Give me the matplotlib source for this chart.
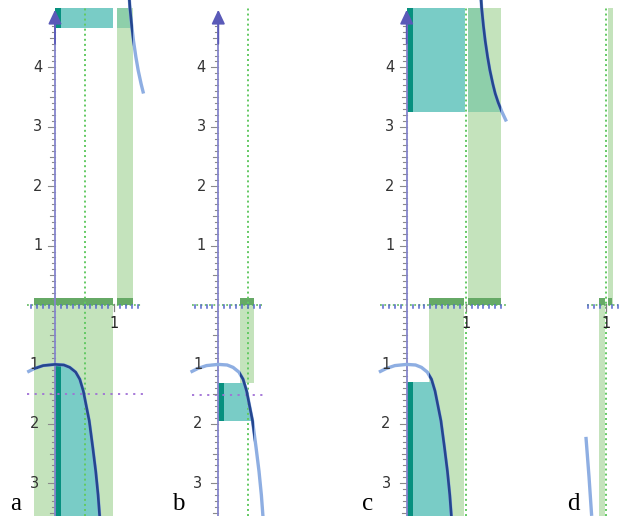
import numpy as np
import matplotlib.pyplot as plt
from matplotlib.patches import Rectangle, PathPatch
from matplotlib.path import Path

# figure size in px and drawing scale
W, H, DPI = 619, 516, 100
SX, SY = 59.0, 59.4          # px per unit (x, y)
Y0 = 305                     # px row of the x axis
TOP = 5.0                    # top of the drawing
BOT = -(H - Y0) / SY         # bottom of the drawing

# lower curve, depth below the axis (panels a, b, c)
low_x = np.array([-0.47, -0.35, -0.2, 0.0, 0.15, 0.25, 0.35, 0.42, 0.48, 0.53, 0.58, 0.64, 0.69, 0.73, 0.76])
low_d = np.array([1.13, 1.07, 1.02, 1.0, 1.01, 1.05, 1.13, 1.25, 1.45, 1.7, 1.95, 2.4, 2.8, 3.2, 3.6])
# upper curve (panels a, c)
up_x = np.array([1.25, 1.27, 1.30, 1.33, 1.37, 1.41, 1.46, 1.50, 1.55, 1.61, 1.69])
up_y = np.array([5.3, 5.0, 4.7, 4.45, 4.18, 3.95, 3.72, 3.56, 3.41, 3.26, 3.09])
# panel d, piece of the lower curve
d_x = np.array([0.665, 0.717, 0.762])
d_d = np.array([2.22, 2.89, 3.55])

# panel a
a_axis = [-0.47, 1.47]
a_vline = 0.5
a_hline = 1.5
a_band_lo = [-0.35, 0.98]
a_band_hi = [1.05, 1.32]
a_teal_up = 4.67
a_curve_end = 1.5
# panel b
b_axis = [-0.45, 0.74]
b_vline = 0.5
b_hline = 1.52
b_band_lo = [0.374, 0.6]
b_teal = [1.32, 1.95]
# panel c
c_axis = [-0.45, 1.69]
c_vline = 1.0
c_band_lo = [0.37, 0.97]
c_band_hi = [1.0, 1.6]
c_bar_hi = [1.02, 1.6]
c_teal_up = 3.25
c_teal_lo = 1.3
# panel d
d_axis = [0.68, 1.21]
d_vline = 1.0
d_band_lo = [0.89, 0.985]
d_band_hi = [0.985, 1.12]
d_bar_lo = [0.89, 0.99]
d_bar_hi = [1.01, 1.10]

LGREEN = '#c4e3bc'
DGREEN = '#66a966'
TEAL = '#79ccc6'
DTEAL = '#07907f'
OVER = '#8ecfaa'
CLIGHT = '#8eaee2'
CDARK = '#24468f'
AXCOL = '#8585cc'

fig = plt.figure(figsize=(W / DPI, H / DPI), dpi=DPI)


def panel(px0, px1, ox):
    ax = fig.add_axes([px0 / W, 0, (px1 - px0) / W, 1])
    ax.set_xlim((px0 - ox) / SX, (px1 - ox) / SX)
    ax.set_ylim(BOT, Y0 / SY)
    ax.axis('off')
    return ax


def rect(ax, x0, x1, y0, y1, color, z, clip=None):
    r = Rectangle((x0, y0), x1 - x0, y1 - y0, color=color, lw=0, zorder=z)
    ax.add_patch(r)
    if clip is not None:
        r.set_clip_path(clip)
    return r


def under_low(ax):
    verts = list(zip(low_x, -low_d)) + [(low_x[-1], BOT - 1), (low_x[0], BOT - 1)]
    return PathPatch(Path(verts + [verts[0]], closed=True), transform=ax.transData)


def under_up(ax):
    verts = [(-1, up_y[0])] + list(zip(up_x, up_y)) + [(up_x[-1], -1), (-1, -1)]
    return PathPatch(Path(verts + [verts[0]], closed=True), transform=ax.transData)


def yaxis(ax):
    ax.plot([0, 0], [BOT, 4.8], color=AXCOL, lw=1.3, zorder=6, solid_capstyle='butt')
    ax.annotate('', xy=(0, 4.97), xytext=(0, 4.4),
                arrowprops=dict(arrowstyle='-|>,head_length=0.85,head_width=0.4',
                                color='#5a5ab8', lw=1.3, shrinkA=0, shrinkB=0), zorder=7)
    for i in range(-35, 49):
        if i == 0:
            continue
        if i % 10 == 0:
            L = 7
        elif i % 5 == 0:
            L = 5
        else:
            L = 3.5
        ax.plot([-L / SX, 0], [i / 10, i / 10], color='#8a8a8a', lw=0.8, zorder=5)
    for k in range(1, 5):
        ax.text(-12.5 / SX, k, str(k), ha='right', va='center', fontsize=10.5, color='#333333', zorder=8)
    for k in range(1, 4):
        ax.text(-16 / SX, -k, str(k), ha='right', va='center', fontsize=10.5, color='#333333', zorder=8)


def xaxis(ax, rng):
    ax.plot(rng, [0, 0], color='#55b455', lw=1.1, ls=(0, (1.2, 1.6)), zorder=5)
    for i in range(int(np.ceil(rng[0] * 10)), int(np.floor(rng[1] * 10)) + 1):
        if i == 0:
            continue
        if i == 10:
            ax.plot([1, 1], [-6 / SY, 1 / SY], color='#808080', lw=0.9, zorder=6)
        else:
            ax.plot([i / 10, i / 10], [-2.5 / SY, 0.5 / SY], color='#5566cc', lw=1.1, zorder=6)
    if rng[0] < 1 < rng[1]:
        ax.text(1, -18 / SY, '1', ha='center', va='center', fontsize=10.5, color='#222222', zorder=8)


def vdots(ax, x, white=False):
    if white:
        ax.plot([x, x], [BOT, TOP], color='white', lw=2.2, zorder=4)
    ax.plot([x, x], [BOT, TOP], color='#62c962', lw=1.4, ls=(0, (1, 1.6)), zorder=4)


def hdots(ax, rng, d):
    ax.plot(rng, [-d, -d], color='#a070d6', lw=1.3, ls=(0, (1.2, 3)), zorder=4)


def curve(ax, x, y, band):
    ax.plot(x, y, color=CLIGHT, lw=2.4, zorder=7, solid_capstyle='butt')
    if band is not None:
        ln, = ax.plot(x, y, color=CDARK, lw=1.9, zorder=8, solid_capstyle='butt')
        ln.set_clip_path(Rectangle((band[0], BOT - 1), band[1] - band[0], TOP + 10, transform=ax.transData))


# ---- panel a
ax = panel(0, 160, 55)
rect(ax, a_band_lo[0], a_band_lo[1], BOT, 0, LGREEN, 1)
rect(ax, a_band_hi[0], a_band_hi[1], 0, TOP, LGREEN, 1)
rect(ax, 0, a_band_lo[1], a_teal_up, TOP, TEAL, 2)
rect(ax, 0, 0.1, a_teal_up, TOP, DTEAL, 2)
rect(ax, a_band_hi[0], a_band_hi[1], a_teal_up, TOP, OVER, 3, under_up(ax))
rect(ax, 0, a_band_lo[1], BOT, 0, TEAL, 2, under_low(ax))
rect(ax, 0, 0.1, BOT, 0, DTEAL, 2, under_low(ax))
rect(ax, a_band_lo[0], a_band_lo[1], 0, 0.12, DGREEN, 3)
rect(ax, a_band_hi[0], a_band_hi[1], 0, 0.12, DGREEN, 3)
vdots(ax, a_vline)
hdots(ax, [a_axis[0], 1.5], a_hline)
xaxis(ax, a_axis)
yaxis(ax)
curve(ax, low_x, -low_d, a_band_lo)
keep = up_x <= a_curve_end
curve(ax, up_x[keep], up_y[keep], a_band_hi)

# ---- panel b
ax = panel(160, 330, 218.3)
rect(ax, b_band_lo[0], b_band_lo[1], -b_teal[0], 0, LGREEN, 1)
rect(ax, 0, b_band_lo[1], -b_teal[1], -b_teal[0], TEAL, 2, under_low(ax))
rect(ax, 0, 0.1, -b_teal[1], -b_teal[0], DTEAL, 2, under_low(ax))
rect(ax, b_band_lo[0], b_band_lo[1], 0, 0.12, DGREEN, 3)
vdots(ax, b_vline)
hdots(ax, [b_axis[0], 0.75], b_hline)
xaxis(ax, b_axis)
yaxis(ax)
curve(ax, low_x, -low_d, b_band_lo)

# ---- panel c
ax = panel(330, 560, 406.7)
rect(ax, c_band_lo[0], c_band_lo[1], BOT, 0, LGREEN, 1)
rect(ax, c_band_hi[0], c_band_hi[1], 0, TOP, LGREEN, 1)
rect(ax, 0, c_band_hi[0], c_teal_up, TOP, TEAL, 2)
rect(ax, 0, 0.1, c_teal_up, TOP, DTEAL, 2)
rect(ax, c_band_hi[0], c_band_hi[1], c_teal_up, TOP, OVER, 3, under_up(ax))
rect(ax, 0, c_band_lo[1], BOT, -c_teal_lo, TEAL, 2, under_low(ax))
rect(ax, 0, 0.1, BOT, -c_teal_lo, DTEAL, 2, under_low(ax))
rect(ax, c_band_lo[0], c_band_lo[1], 0, 0.12, DGREEN, 3)
rect(ax, c_bar_hi[0], c_bar_hi[1], 0, 0.12, DGREEN, 3)
vdots(ax, c_vline, white=True)
xaxis(ax, c_axis)
yaxis(ax)
curve(ax, low_x, -low_d, [c_band_lo[0], 2])
curve(ax, up_x, up_y, c_band_hi)

# ---- panel d
ax = panel(560, 619, 546.7)
rect(ax, d_band_lo[0], d_band_lo[1], BOT, 0, LGREEN, 1)
rect(ax, d_band_hi[0], d_band_hi[1], 0, TOP, LGREEN, 1)
rect(ax, d_bar_lo[0], d_bar_lo[1], 0, 0.12, DGREEN, 3)
rect(ax, d_bar_hi[0], d_bar_hi[1], 0, 0.12, DGREEN, 3)
vdots(ax, d_vline, white=True)
xaxis(ax, d_axis)
curve(ax, d_x, -d_d, None)

# panel letters
for lbl, px in zip(['a', 'b', 'c', 'd'], [10, 172, 362, 567]):
    fig.text(px / W, 1 - 510 / H, lbl, fontsize=18, family='Liberation Serif',
             ha='left', va='baseline', color='black')

fig.savefig('out.png', dpi=DPI)
